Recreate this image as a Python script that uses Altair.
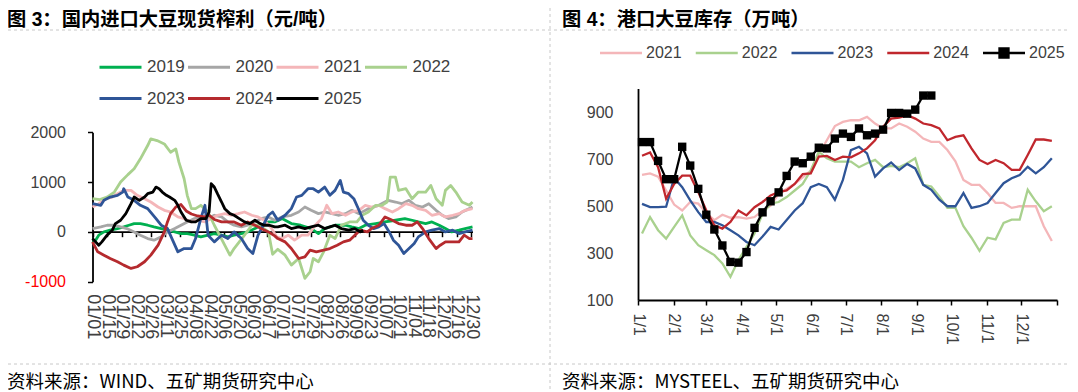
import altair as alt
import pandas as pd

W, H = 1062, 384
FONT = "Liberation Sans"
CJK = "Noto Sans CJK SC"
TITLE_FONT = "Liberation Sans, Noto Sans CJK SC"
TXT = "#404040"

TITLE_L = "图 3：国内进口大豆现货榨利（元/吨）"
TITLE_R = "图 4：港口大豆库存（万吨）"
SRC_L = "资料来源：WIND、五矿期货研究中心"
SRC_R = "资料来源：MYSTEEL、五矿期货研究中心"

# ---------------- left chart: crushing margin (day of year, value) ----------------
L_SERIES = ["2019", "2020", "2021", "2022", "2023", "2024", "2025"]
L_COLORS = ["#00B050", "#A6A6A6", "#F4B6B9", "#A9D18E", "#2F5597", "#B52A2E", "#000000"]

d2019 = [0, 3, 6, 11, 17, 24, 30, 35, 40, 46, 53, 59, 66, 72, 79, 85, 91, 98, 104, 111, 117, 124, 130, 136, 143, 149,
         156, 162, 169, 175, 182, 191, 200, 210, 217, 223, 233, 243, 249, 256, 262, 272, 281, 291, 300, 307, 313, 320,
         326, 333, 339, 345, 352, 358, 365]
v2019 = [-200, -166, -66, 0, 34, 67, 100, 134, 167, 167, 134, 100, 67, 34, 0, -33, -33, -66, -100, -66, -33, -66, -100,
         -66, -33, 0, 67, 134, 200, 200, 267, 167, 134, 67, -33, 67, 134, 134, 100, 67, 134, 167, 200, 234, 267, 234,
         200, 167, 200, 134, 67, 0, 34, 67, 100]

d2020 = [0, 8, 14, 21, 27, 33, 40, 46, 53, 59, 66, 72, 79, 85, 91, 98, 104, 111, 117, 124, 130, 136, 143, 149, 156, 162,
         169, 175, 182, 191, 198, 204, 210, 217, 223, 230, 236, 243, 249, 256, 265, 275, 284, 291, 297, 304, 310, 317,
         323, 330, 336, 342, 349, 355, 362, 365]
v2020 = [67, 100, 134, 134, 100, 67, 0, -66, -133, -166, -100, 0, 67, 134, 200, 267, 300, 267, 334, 300, 200, 134, 100,
         134, 200, 267, 300, 234, 300, 334, 400, 500, 434, 367, 400, 367, 334, 367, 434, 367, 467, 534, 634, 600, 567,
         634, 534, 500, 567, 434, 334, 267, 300, 400, 467, 500]

d2021 = [0, 6, 13, 19, 24, 30, 37, 43, 50, 56, 63, 69, 75, 82, 88, 95, 101, 108, 114, 120, 127, 133, 140, 146, 153, 159,
         165, 172, 177, 182, 188, 194, 201, 207, 214, 220, 225, 230, 236, 243, 249, 256, 262, 268, 275, 281, 288, 294,
         301, 307, 313, 320, 326, 333, 339, 346, 352, 358, 365]
v2021 = [500, 567, 667, 700, 767, 834, 834, 734, 667, 600, 500, 434, 400, 300, 267, 200, 234, 200, 267, 334, 367, 334,
         367, 400, 334, 300, 234, 70, -100, -134, -66, -166, -66, -66, 134, 267, 534, 367, 400, 334, 400, 434, 534, 500,
         534, 467, 400, 467, 567, 534, 467, 434, 334, 367, 300, 334, 367, 434, 467]

d2022 = [0, 7, 14, 21, 27, 34, 40, 46, 53, 56, 62, 69, 75, 80, 83, 88, 91, 95, 99, 104, 111, 117, 122, 127, 132, 136,
         141, 146, 153, 159, 165, 169, 173, 178, 185, 191, 198, 204, 209, 212, 217, 222, 228, 233, 239, 247, 254, 259,
         265, 272, 278, 283, 286, 291, 294, 301, 307, 313, 320, 325, 330, 336, 339, 344, 349, 355, 362, 365]
v2022 = [667, 650, 700, 800, 1000, 1150, 1267, 1467, 1734, 1867, 1834, 1767, 1600, 1667, 1400, 1067, 734, 467, 467, 534,
         400, 134, -66, -266, -467, -334, -200, -66, 134, 134, 60, 0, -450, -350, -467, -667, -534, -934, -800, -534,
         -600, -400, -66, -134, 134, 200, 200, 334, 400, 534, 534, 600, 1100, 1100, 834, 867, 667, 800, 800, 934, 667,
         534, 834, 934, 800, 600, 534, 600]

d2023 = [0, 8, 11, 17, 24, 29, 30, 34, 40, 46, 53, 61, 66, 72, 82, 88, 95, 99, 104, 108, 111, 117, 124, 130, 136, 143,
         149, 154, 159, 164, 169, 173, 178, 185, 191, 196, 201, 207, 212, 217, 223, 228, 233, 238, 241, 246, 251, 256,
         260, 265, 270, 275, 280, 285, 289, 294, 299, 304, 309, 313, 320, 326, 333, 339, 346, 352, 358, 365]
v2023 = [567, 534, 634, 700, 734, 800, 867, 700, 634, 534, 467, 267, 134, 67, -400, -334, -334, -133, 267, 534, -66, -200,
         -66, -133, 0, -133, -334, -434, -66, 134, 334, 400, 234, 334, 467, 700, 734, 867, 867, 800, 900, 734, 834, 1034,
         800, 767, 667, 434, 234, 134, 67, 100, 167, 0, -166, -267, -434, -334, -234, -100, 0, 34, 67, 0, 34, -33, 0, 34]

d2024 = [0, 5, 11, 17, 24, 30, 37, 43, 50, 56, 63, 69, 72, 75, 80, 85, 90, 95, 101, 108, 112, 117, 124, 130, 136, 143,
         149, 156, 162, 169, 175, 178, 185, 191, 198, 204, 209, 215, 222, 228, 235, 241, 247, 252, 257, 264, 268, 275,
         281, 288, 294, 301, 307, 312, 317, 323, 330, 334, 339, 346, 352, 357, 362, 365]
v2024 = [-200, -400, -467, -534, -600, -667, -734, -700, -600, -467, -267, 0, 200, 367, 500, 550, 420, 360, 320, 300,
         334, 250, 200, 200, 200, 134, 200, 134, 67, 0, -80, -134, -200, -334, -534, -500, -367, -400, -367, -334, -267,
         -200, -167, -66, 34, 0, 67, 134, 300, 234, 167, 134, 134, 200, 67, -134, -334, -267, -200, -200, -200, -66,
         -134, -134]

d2025 = [0, 3, 6, 9, 14, 19, 22, 27, 32, 37, 40, 45, 50, 53, 58, 61, 64, 67, 71, 74, 79, 82, 85, 90, 95, 99, 104, 109,
         112, 114, 117, 120, 124, 127, 132, 136, 141, 146, 151, 156, 161, 165, 170, 175, 178, 185, 191, 198, 204, 210,
         217, 223, 228, 233, 239, 246, 252, 257, 260]
v2025 = [-133, -200, -267, -200, -66, 34, 167, 234, 367, 567, 700, 634, 700, 767, 800, 900, 867, 800, 734, 700, 634, 534,
         400, 234, 200, 200, 267, 267, 400, 967, 900, 767, 600, 467, 367, 334, 267, 200, 167, 234, 167, 134, 134, 100,
         100, 134, 67, 100, 67, 100, 134, 67, 100, 134, 67, 34, 67, 0, 34]

LX_TICKS = [0, 14, 28, 42, 56, 70, 84, 98, 112, 126, 140, 154, 168, 182, 196, 210, 224, 238, 252, 266, 280, 294, 308,
            322, 336, 350, 364]
LX_LABELS = ["01/01", "01/15", "01/29", "02/12", "02/26", "03/11", "03/25", "04/08", "04/22", "05/06", "05/20", "06/03",
             "06/17", "07/01", "07/15", "07/29", "08/12", "08/26", "09/09", "09/23", "10/07", "10/21", "11/04", "11/18",
             "12/02", "12/16", "12/30"]
LY_TICKS = [-1000, 0, 1000, 2000]

# ---------------- right chart: port soybean stocks (weekly) ----------------
R_SERIES = ["2021", "2022", "2023", "2024", "2025"]
R_COLORS = ["#F4B6B9", "#A9D18E", "#2F5597", "#C0272D", "#000000"]
r2021 = [632, 639, 625, 566, 506, 481, 517, 510, 470, 440, 463, 450, 453, 446, 453, 481, 502, 552, 573, 594, 622, 651,
         720, 780, 840, 858, 865, 865, 879, 851, 830, 830, 851, 837, 816, 787, 773, 773, 738, 690, 611, 590, 590, 555,
         513, 513, 492, 499, 499, 499, 414, 351]
r2022 = [383, 453, 397, 361, 411, 460, 375, 333, 312, 291, 256, 199, 270, 326, 383, 467, 510, 517, 538, 566, 594, 651,
         731, 703, 689, 689, 689, 665, 682, 696, 665, 671, 665, 682, 703, 590, 583, 541, 492, 492, 414, 365, 309, 365,
         358, 428, 442, 442, 569, 520, 478, 499]
r2023 = [509, 495, 495, 497, 620, 580, 524, 474, 432, 432, 418, 397, 375, 347, 333, 370, 411, 400, 440, 481, 512, 580,
         594, 580, 527, 611, 738, 752, 724, 625, 660, 685, 653, 679, 660, 590, 569, 527, 499, 499, 555, 492, 499, 513,
         555, 597, 618, 632, 667, 639, 665, 703]
r2024 = [714, 728, 665, 531, 594, 629, 629, 559, 481, 418, 404, 432, 481, 460, 495, 517, 545, 559, 566, 594, 636, 639,
         710, 713, 696, 710, 707, 724, 745, 780, 837, 872, 876, 886, 872, 851, 844, 830, 780, 794, 801, 745, 696, 679,
         696, 682, 654, 654, 717, 783, 783, 777]
r2025 = [772, 772, 692, 614, 614, 752, 672, 573, 463, 400, 332, 262, 259, 304, 407, 473, 520, 558, 628, 689, 682, 710,
         748, 745, 787, 808, 794, 830, 801, 808, 825, 896, 896, 893, 910, 970, 970]
RX_TICKS = [0, 31, 59, 90, 120, 151, 181, 212, 243, 273, 304, 334, 365]
RX_LABELS = ["1/1", "2/1", "3/1", "4/1", "5/1", "6/1", "7/1", "8/1", "9/1", "10/1", "11/1", "12/1", ""]
RY_TICKS = [100, 300, 500, 700, 900]

# ---------------- tables ----------------
left_rows = []
for s, ds, vs in zip(L_SERIES, [d2019, d2020, d2021, d2022, d2023, d2024, d2025],
                     [v2019, v2020, v2021, v2022, v2023, v2024, v2025]):
    for d, v in zip(ds, vs):
        left_rows.append({"series": s, "day": d, "value": v})
ldf = pd.DataFrame(left_rows)

right_rows = []
for s, vs in zip(R_SERIES, [r2021, r2022, r2023, r2024, r2025]):
    for i, v in enumerate(vs):
        right_rows.append({"series": s, "day": 3.5 + 7 * i, "value": v})
rdf = pd.DataFrame(right_rows)
rdf25 = rdf[rdf["series"] == "2025"]


def lookup_expr(labels, ticks):
    return ("[" + ",".join("'" + t + "'" for t in labels) + "][indexof(["
            + ",".join(str(t) for t in ticks) + "], datum.value)]")


# ---------------- left chart ----------------
LX = alt.X("day:Q",
           scale=alt.Scale(domain=[0, 365], range=[84.5, 464.5], nice=False, zero=False),
           axis=alt.Axis(orient="bottom", offset=-(H - 223.7), values=LX_TICKS,
                         labelExpr=lookup_expr(LX_LABELS, LX_TICKS), labelAngle=90, labelFontSize=18,
                         labelColor=TXT, labelPadding=57, labelOverlap=False, labelFlush=False,
                         tickSize=5, tickColor="black", tickWidth=1.5, domainColor="black",
                         domainWidth=1.8, grid=False, title=None))
LY = alt.Y("value:Q",
           scale=alt.Scale(domain=[-1000, 2000], range=[273.7, 124.3], nice=False, zero=False),
           axis=alt.Axis(orient="left", offset=-84.5, values=LY_TICKS, labelExpr="datum.value + ''",
                         labelColor={"expr": "datum.value < 0 ? '#FF0000' : '#404040'"},
                         labelFontSize=16, labelPadding=22, tickSize=5, tickColor="black", tickWidth=1.5,
                         domainColor="black", domainWidth=1.8, grid=False, title=None))
leg_l = alt.Legend(orient="none", legendX=90, legendY=36.5, direction="horizontal", columns=4,
                   symbolType="stroke", symbolSize=1764, symbolStrokeWidth=3, labelFontSize=17,
                   labelColor=TXT, labelFont=FONT, columnPadding=-3.5, rowPadding=0.5, labelOffset=4, padding=0)
left = alt.Chart(ldf).mark_line(strokeWidth=2.8, strokeJoin="round").encode(
    x=LX, y=LY,
    color=alt.Color("series:N", scale=alt.Scale(domain=L_SERIES, range=L_COLORS), legend=leg_l, title=None),
)

# ---------------- right chart ----------------
RX = alt.X("day:Q",
           scale=alt.Scale(domain=[0, 365], range=[630, 1049], nice=False, zero=False),
           axis=alt.Axis(orient="bottom", offset=-(H - 292), values=RX_TICKS,
                         labelExpr=lookup_expr(RX_LABELS, RX_TICKS), labelAngle=90, labelFontSize=16,
                         labelColor=TXT, labelPadding=8, labelOverlap=False, labelFlush=False,
                         tickSize=5, tickColor="black", tickWidth=1.5, domainColor="black",
                         domainWidth=1.8, grid=False, title=None))
RY = alt.Y("value:Q",
           scale=alt.Scale(domain=[100, 1000], range=[292, 80.5], nice=False, zero=False),
           axis=alt.Axis(orient="left", offset=-630, values=RY_TICKS, labelFontSize=16, labelColor=TXT,
                         labelPadding=25, ticks=False, domainColor="black", domainWidth=1.8,
                         grid=False, title=None))
r_color = alt.Scale(domain=R_SERIES, range=R_COLORS)
LINE_PATH = "M-1,-0.055H1V0.055H-1Z"
SQ_PATH = "M-1,-0.06H-0.27V-0.27H0.27V-0.06H1V0.06H0.27V0.27H-0.27V0.06H-1Z"
R_PATHS = [LINE_PATH, LINE_PATH, LINE_PATH, LINE_PATH, SQ_PATH]
leg_r = alt.Legend(orient="none", legendX=592, legendY=24, direction="horizontal", columns=5,
                   symbolSize=1764, symbolStrokeWidth=0, symbolOpacity=1, labelFontSize=16,
                   labelColor=TXT, labelFont=FONT, columnPadding=13.75, labelOffset=4, padding=0)

r_legend = alt.Chart(pd.DataFrame({"series": R_SERIES})).mark_point(filled=True, opacity=0).encode(
    color=alt.Color("series:N", scale=r_color, legend=leg_r, title=None),
    shape=alt.Shape("series:N", scale=alt.Scale(domain=R_SERIES, range=R_PATHS), legend=leg_r, title=None))
r_lines = alt.Chart(rdf).mark_line(strokeWidth=2.3).encode(
    x=RX, y=RY, color=alt.Color("series:N", scale=r_color, legend=None))
r_squares = alt.Chart(rdf25).mark_point(shape="square", filled=True, size=70, opacity=1, color="black").encode(
    x=RX, y=RY)
right = alt.layer(r_legend, r_lines, r_squares)

# ---------------- frame: titles, separators, sources ----------------
one = pd.DataFrame({"k": [0]})
dash = dict(color="#C8C8C8", strokeDash=[3, 3], strokeWidth=1)
h_top = alt.Chart(one).mark_rule(**dash).encode(x=alt.value(0), x2=alt.value(W), y=alt.value(22))
h_bot = alt.Chart(one).mark_rule(**dash).encode(x=alt.value(0), x2=alt.value(W), y=alt.value(356))
v_mid = alt.Chart(one).mark_rule(**dash).encode(x=alt.value(542), y=alt.value(0), y2=alt.value(H))


def label(text, x, y, size, weight, font):
    return alt.Chart(one).mark_text(align="left", baseline="middle", font=font, fontSize=size,
                                    fontWeight=weight, color="black").encode(
        x=alt.value(x), y=alt.value(y), text=alt.value(text))


texts = [label(TITLE_L, -1, 12, 19.3, "bold", TITLE_FONT), label(TITLE_R, 554, 12, 19.3, "bold", TITLE_FONT),
         label(SRC_L, -1, 374, 18.5, "normal", CJK), label(SRC_R, 554, 374, 18.5, "normal", CJK)]

chart = alt.layer(left, right, h_top, h_bot, v_mid, *texts).resolve_scale(
    x="independent", y="independent", color="independent", shape="independent"
).resolve_axis(x="independent", y="independent").resolve_legend(
    color="independent", shape="independent"
).properties(
    width=W, height=H, padding=0, autosize=alt.AutoSizeParams(type="none")
).configure(font=FONT).configure_view(stroke=None)

chart.save("out.html", embed_options={"renderer": "svg", "actions": False})
